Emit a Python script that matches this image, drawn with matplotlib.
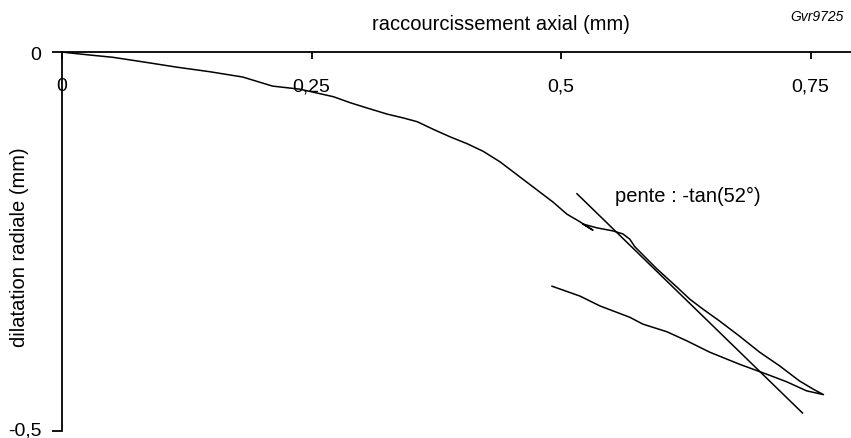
import math
import numpy as np
import matplotlib.pyplot as plt
from matplotlib.transforms import ScaledTranslation

plt.rcParams['font.family'] = ['Liberation Sans', 'DejaVu Sans']

# courbe mesuree : raccourcissement axial (mm) / dilatation radiale (mm)
raccourcissement = [0.0, 0.006, 0.028, 0.051, 0.081, 0.115, 0.148, 0.181, 0.211, 0.238,
                    0.245, 0.272, 0.289, 0.306, 0.326, 0.342, 0.356, 0.372, 0.389, 0.406,
                    0.422, 0.439, 0.452, 0.466, 0.479, 0.492, 0.506, 0.519, 0.527, 0.532,
                    0.522, 0.536, 0.552, 0.562, 0.569, 0.574, 0.596, 0.616, 0.629, 0.642,
                    0.659, 0.679, 0.699, 0.719, 0.739, 0.753, 0.763,
                    # retour
                    0.746, 0.726, 0.706, 0.679, 0.649, 0.626, 0.606, 0.582, 0.569, 0.539,
                    0.519, 0.491]
dilatation = [0.0, -0.001, -0.004, -0.007, -0.013, -0.020, -0.026, -0.033, -0.045, -0.049,
              -0.051, -0.059, -0.067, -0.074, -0.082, -0.087, -0.092, -0.102, -0.112, -0.121,
              -0.131, -0.145, -0.158, -0.172, -0.185, -0.198, -0.214, -0.224, -0.231, -0.235,
              -0.227, -0.232, -0.236, -0.240, -0.247, -0.257, -0.286, -0.310, -0.326, -0.339,
              -0.355, -0.375, -0.396, -0.414, -0.434, -0.445, -0.452,
              # retour
              -0.447, -0.435, -0.425, -0.412, -0.396, -0.381, -0.369, -0.359, -0.350, -0.335,
              -0.322, -0.309]

# tangente
angle_pente = 52
tangente_x = [0.516, 0.742]
tangente_y0 = -0.187

xticks = [0, 0.25, 0.5, 0.75]
xticklabels = ['0', '0,25', '0,5', '0,75']
yticks = [-0.5, 0]
yticklabels = ['-0,5', '0']

W, H = 851, 439
fig = plt.figure(figsize=(W / 100, H / 100), dpi=100)
ax = fig.add_axes([62 / W, 7 / H, 789 / W, 379 / H])

ax.plot(raccourcissement, dilatation, color='black', lw=1.1)

pente = -math.tan(math.radians(angle_pente))
tx = np.array(tangente_x)
ty = tangente_y0 + pente * (tx - tx[0])
ax.plot(tx, ty, color='black', lw=1.1)

ax.set_xlim(0, 789 / 998)
ax.set_ylim(-0.5, 0)

ax.spines['right'].set_visible(False)
ax.spines['top'].set_visible(False)
ax.spines['bottom'].set_position(('data', 0))
for s in ('left', 'bottom'):
    ax.spines[s].set_linewidth(1.3)

ax.set_xticks(xticks)
ax.set_xticklabels(xticklabels)
ax.set_yticks(yticks)
ax.set_yticklabels(yticklabels)
ax.tick_params(axis='x', direction='out', length=5, width=1.3, pad=13, labelsize=14)
ax.tick_params(axis='y', direction='out', length=7, width=1.3, pad=8, labelsize=14)
# remonter un peu le libelle -0,5 (bord bas)
decal = ScaledTranslation(0, 2 / 72, fig.dpi_scale_trans)
lbl = ax.get_yticklabels()[0]
lbl.set_transform(lbl.get_transform() + decal)

fig.text(501 / W, 1 - 30 / H, 'raccourcissement axial (mm)', ha='center', va='baseline',
         fontsize=14.5)
fig.text(790 / W, 1 - 21 / H, 'Gvr9725', ha='left', va='baseline', fontsize=10, style='italic')
fig.text(20 / W, 1 - 247 / H, 'dilatation radiale (mm)', ha='center', va='center',
         rotation=90, fontsize=14.5)
ax.text(0.627, -0.1966, 'pente : -tan(52°)', ha='center', va='baseline', fontsize=14.5)

fig.savefig('out.png', dpi=100)
